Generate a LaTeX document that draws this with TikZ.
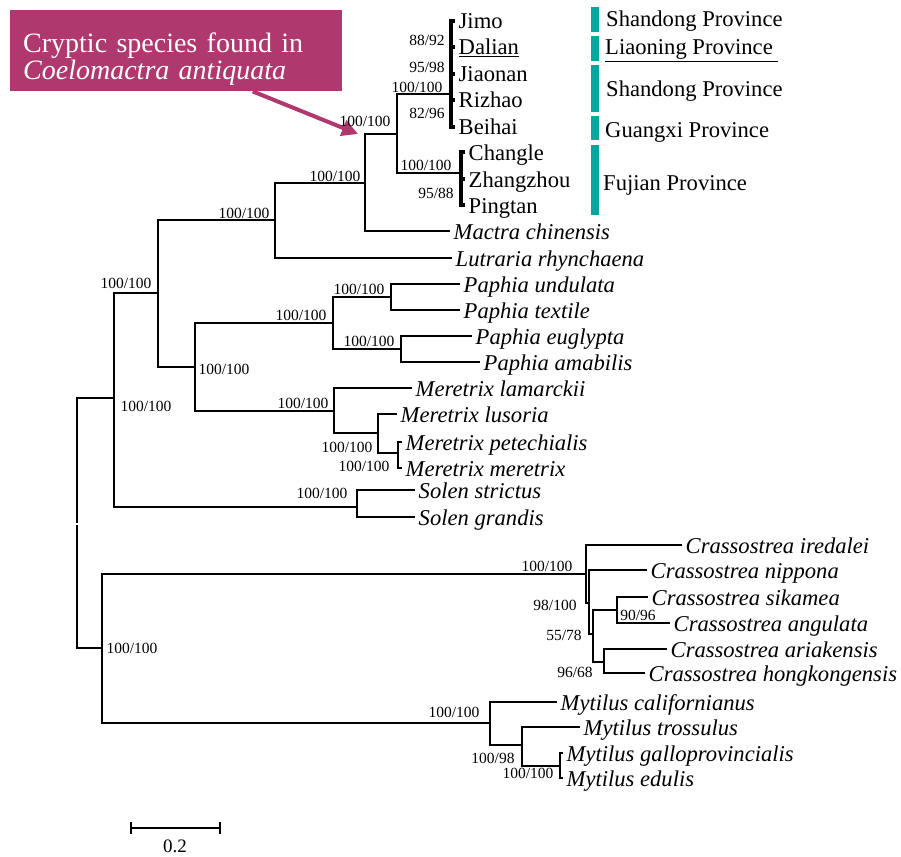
\documentclass[tikz,border=0pt]{standalone}
\usepackage{fontspec}
\setmainfont{Liberation Serif}
\usetikzlibrary{arrows.meta}
\definecolor{calloutred}{RGB}{175,57,110}
\definecolor{provteal}{RGB}{0,168,158}
\newcommand{\tipsize}{\fontsize{22.6}{25}\selectfont}
\newcommand{\bootsize}{\fontsize{15.5}{17}\selectfont}
\newcommand{\callsize}{\fontsize{28}{27}\selectfont}
\begin{document}
\begin{tikzpicture}[x=1pt,y=-1pt,
	branch/.style={line width=2.8pt},
	leaf/.style={anchor=west, inner xsep=3.5pt, inner ysep=0pt, font=\tipsize\itshape, text height=18pt, text depth=2pt},
	place/.style={leaf, font=\tipsize},
	prov/.style={anchor=west, inner sep=0pt, font=\tipsize, text height=18pt, text depth=2pt},
	boot/.style={inner sep=0pt, font=\bootsize}]
	
	\useasboundingbox (0,0) rectangle (901,856);
	
	% callout
	\node[fill=calloutred, anchor=north west, minimum width=332pt, minimum height=81pt, inner sep=0pt] (cryptic) at (10,10) {};
	\node[text=white, anchor=base west, text width=310pt, align=left, inner sep=0pt, font=\callsize] (crypticlabel) at (23,53)
	{Cryptic species found in\\ \textit{Coelomactra antiquata}};
	\coordinate (ctip) at (358,134);
	\draw[calloutred, line width=4pt, -{Triangle[length=16pt,width=16pt]}] (cryptic.-28.7) -- (ctip);
	
	% internal nodes
	\coordinate (rtop) at (77,522.8);
	\coordinate (rbot) at (77,525.4);
	\coordinate (nUp) at (114,398);
	\coordinate (nLow) at (102,648);
	\coordinate (nVen) at (158,293);
	\coordinate (nMac) at (275,220);
	\coordinate (nMc) at (365,183);
	\coordinate (nCa) at (397,134);
	\coordinate (nA) at (451,94);
	\coordinate (nB) at (461,173);
	\coordinate (nVen2) at (195,367);
	\coordinate (nPap) at (333,323);
	\coordinate (nPa1) at (391,297);
	\coordinate (nPa2) at (401,349);
	\coordinate (nMer) at (334,411);
	\coordinate (nMe2) at (378,433);
	\coordinate (nMe3) at (398,453);
	\coordinate (nSol) at (357,507);
	\coordinate (nCr) at (586,574);
	\coordinate (nCr2) at (589,603);
	\coordinate (nCr3) at (593,634);
	\coordinate (nCr4) at (617,610);
	\coordinate (nCr5) at (604,662);
	\coordinate (nMy) at (490,723);
	\coordinate (nMy2) at (522,745);
	\coordinate (nMy3) at (560,766);
	
	% tips
	\node[place] (jimo) at (455,21) {Jimo};
	\node[place] (dalian) at (455,47) {\underline{Dalian}};
	\node[place] (jiaonan) at (455,74) {Jiaonan};
	\node[place] (rizhao) at (455,100) {Rizhao};
	\node[place] (beihai) at (455,127) {Beihai};
	\node[place] (changle) at (465,152) {Changle};
	\node[place] (zhangzhou) at (465,179) {Zhangzhou};
	\node[place] (pingtan) at (465,205) {Pingtan};
	\node[leaf] (mactra) at (450,231) {Mactra chinensis};
	\node[leaf] (lutraria) at (452,258) {Lutraria rhynchaena};
	\node[leaf] (pund) at (460,284) {Paphia undulata};
	\node[leaf] (ptex) at (460,310) {Paphia textile};
	\node[leaf] (peug) at (472,336) {Paphia euglypta};
	\node[leaf] (pama) at (480,362) {Paphia amabilis};
	\node[leaf] (mlam) at (412,388) {Meretrix lamarckii};
	\node[leaf] (mlus) at (397,414) {Meretrix lusoria};
	\node[leaf] (mpet) at (402,442) {Meretrix petechialis};
	\node[leaf] (mmer) at (402,468) {Meretrix meretrix};
	\node[leaf] (sstr) at (415,490) {Solen strictus};
	\node[leaf] (sgra) at (415,517) {Solen grandis};
	\node[leaf] (cire) at (682,545) {Crassostrea iredalei};
	\node[leaf] (cnip) at (647,570) {Crassostrea nippona};
	\node[leaf] (csik) at (648,597) {Crassostrea sikamea};
	\node[leaf] (cang) at (670,623) {Crassostrea angulata};
	\node[leaf] (cari) at (667,649) {Crassostrea ariakensis};
	\node[leaf] (chon) at (645,673) {Crassostrea hongkongensis};
	\node[leaf] (ycal) at (557,702) {Mytilus californianus};
	\node[leaf] (ytro) at (580,727) {Mytilus trossulus};
	\node[leaf] (ygal) at (563,753) {Mytilus galloprovincialis};
	\node[leaf] (yedu) at (563,778) {Mytilus edulis};
	
	% branches
	\draw[branch] (rtop) |- (nUp);
	\draw[branch] (rbot) |- (nLow);
	\draw[branch] (nUp) |- (nVen);
	\draw[branch] (nUp) |- (nSol);
	\draw[branch] (nVen) |- (nMac);
	\draw[branch] (nVen) |- (nVen2);
	\draw[branch] (nMac) |- (nMc);
	\draw[branch] (nMac) |- (lutraria.west);
	\draw[branch] (nMc) |- (nCa);
	\draw[branch] (nMc) |- (mactra.west);
	\draw[branch] (nCa) |- (nA);
	\draw[branch] (nCa) |- (nB);
	\foreach \t in {jimo,dalian,jiaonan,rizhao,beihai}
	\draw[line width=3.2pt] (nA) |- (\t.west);
	\foreach \t in {changle,zhangzhou,pingtan}
	\draw[line width=3.2pt] (nB) |- (\t.west);
	\draw[branch] (nVen2) |- (nPap);
	\draw[branch] (nVen2) |- (nMer);
	\draw[branch] (nPap) |- (nPa1);
	\draw[branch] (nPap) |- (nPa2);
	\draw[branch] (nPa1) |- (pund.west);
	\draw[branch] (nPa1) |- (ptex.west);
	\draw[branch] (nPa2) |- (peug.west);
	\draw[branch] (nPa2) |- (pama.west);
	\draw[branch] (nMer) |- (mlam.west);
	\draw[branch] (nMer) |- (nMe2);
	\draw[branch] (nMe2) |- (mlus.west);
	\draw[branch] (nMe2) |- (nMe3);
	\draw[branch] (nMe3) |- (mpet.west);
	\draw[branch] (nMe3) |- (mmer.west);
	\draw[branch] (nSol) |- (sstr.west);
	\draw[branch] (nSol) |- (sgra.west);
	\draw[branch] (nLow) |- (nCr);
	\draw[branch] (nLow) |- (nMy);
	\draw[branch] (nCr) |- (cire.west);
	\draw[branch] (nCr) |- (nCr2);
	\draw[branch] (nCr2) |- (cnip.west);
	\draw[branch] (nCr2) |- (nCr3);
	\draw[branch] (nCr3) |- (nCr4);
	\draw[branch] (nCr3) |- (nCr5);
	\draw[branch] (nCr4) |- (csik.west);
	\draw[branch] (nCr4) |- (cang.west);
	\draw[branch] (nCr5) |- (cari.west);
	\draw[branch] (nCr5) |- (chon.west);
	\draw[branch] (nMy) |- (ycal.west);
	\draw[branch] (nMy) |- (nMy2);
	\draw[branch] (nMy2) |- (ytro.west);
	\draw[branch] (nMy2) |- (nMy3);
	\draw[branch] (nMy3) |- (ygal.west);
	\draw[branch] (nMy3) |- (yedu.west);
	
	% support values
	\node[boot] (bVen) at (126,283) {100/100};
	\node[boot] (bUp) at (146,406) {100/100};
	\node[boot] (bMac) at (244,213) {100/100};
	\node[boot] (bMc) at (335,176) {100/100};
	\node[boot] (bCa) at (365,121) {100/100};
	\node[boot] (bA) at (417,87) {100/100};
	\node[boot] (bB) at (426,165) {100/100};
	\node[boot] (bA1) at (427,40) {88/92};
	\node[boot] (bA2) at (427,67) {95/98};
	\node[boot] (bA3) at (427,113) {82/96};
	\node[boot] (bB1) at (436,193) {95/88};
	\node[boot] (bVen2) at (224,369) {100/100};
	\node[boot] (bPap) at (301,315) {100/100};
	\node[boot] (bPa1) at (359,289) {100/100};
	\node[boot] (bPa2) at (369,341) {100/100};
	\node[boot] (bMer) at (303,403) {100/100};
	\node[boot] (bMe2) at (347,447) {100/100};
	\node[boot] (bMe3) at (364,466) {100/100};
	\node[boot] (bSol) at (322,493) {100/100};
	\node[boot] (bLow) at (132,648) {100/100};
	\node[boot] (bCr) at (547,566) {100/100};
	\node[boot] (bCr2) at (555,605) {98/100};
	\node[boot] (bCr3) at (564,635) {55/78};
	\node[boot] (bCr4) at (638,615) {90/96};
	\node[boot] (bCr5) at (575,672) {96/68};
	\node[boot] (bMy) at (454,712) {100/100};
	\node[boot] (bMy2) at (493,758) {100/98};
	\node[boot] (bMy3) at (528,773) {100/100};
	
	% provinces
	\fill[provteal] (591,7) rectangle (599,32);
	\fill[provteal] (591,36) rectangle (599,61);
	\fill[provteal] (591,65) rectangle (599,112);
	\fill[provteal] (591,116) rectangle (599,140);
	\fill[provteal] (591,145) rectangle (599,215);
	\node[prov] (shandong1) at (606,19) {Shandong Province};
	\node[prov] (liaoning) at (605,47) {\underline{Liaoning Province~}};
	\node[prov] (shandong2) at (606,89) {Shandong Province};
	\node[prov] (guangxi) at (605,129) {Guangxi Province};
	\node[prov] (fujian) at (603,182) {Fujian Province};
	
	% scale bar
	\draw[line width=2.8pt] (131,828) -- (220,828);
	\draw[line width=2.8pt] (131,822) -- (131,834);
	\draw[line width=2.8pt] (220,822) -- (220,834);
	\node[inner sep=0pt, font=\fontsize{19}{21}\selectfont] (scalelbl) at (175,846) {0.2};
	
\end{tikzpicture}
\end{document}
